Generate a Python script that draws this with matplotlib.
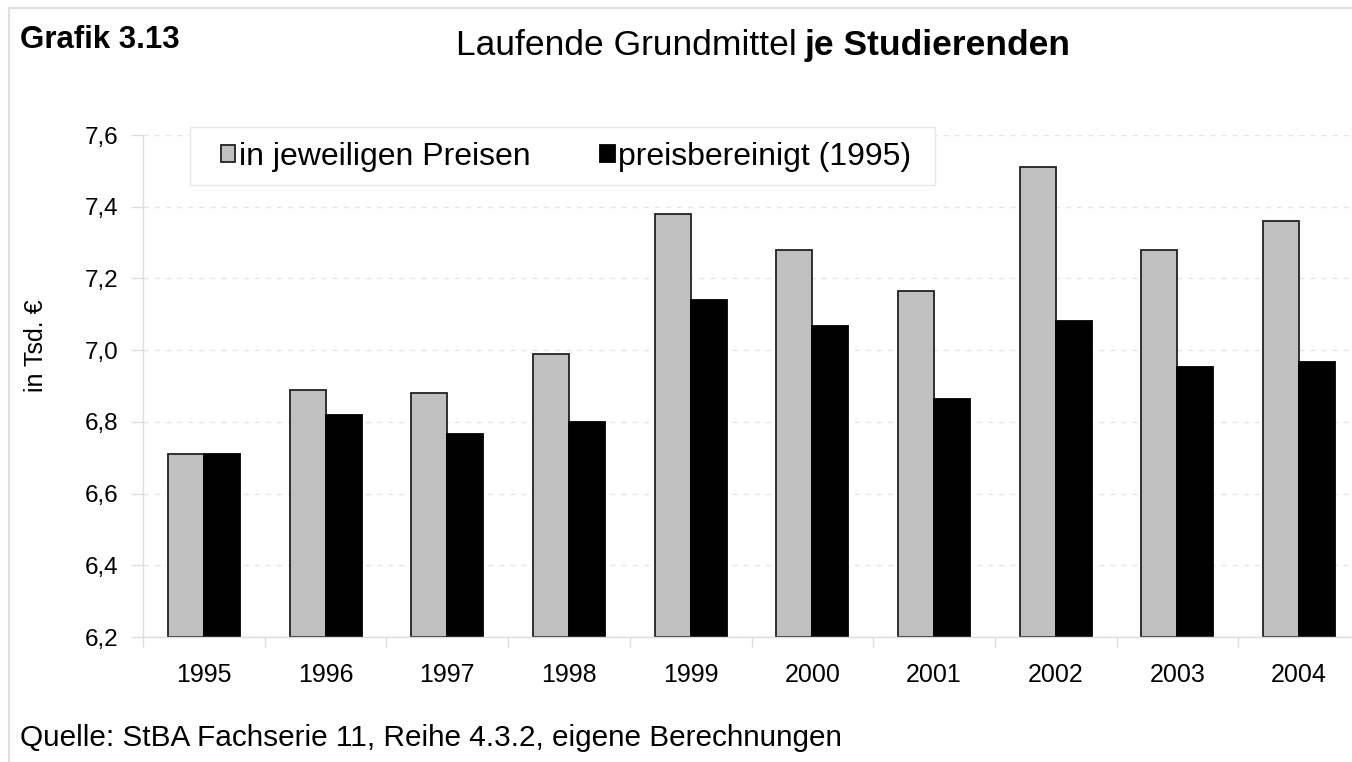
import numpy as np
import matplotlib
matplotlib.use('Agg')
import matplotlib.pyplot as plt
from matplotlib.patches import Patch, Rectangle
from matplotlib.lines import Line2D

plt.rcParams['font.family'] = ['Liberation Sans', 'DejaVu Sans']

jahre = ['1995', '1996', '1997', '1998', '1999', '2000', '2001', '2002', '2003', '2004']
jeweilig = [6.71, 6.89, 6.88, 6.99, 7.38, 7.28, 7.165, 7.51, 7.28, 7.36]
bereinigt = [6.71, 6.82, 6.765, 6.80, 7.14, 7.067, 6.863, 7.08, 6.952, 6.967]
yticks = [6.2, 6.4, 6.6, 6.8, 7.0, 7.2, 7.4, 7.6]

W, H = 1352, 762
fig = plt.figure(figsize=(W / 100, H / 100), dpi=100)
ax = fig.add_axes([143 / W, 1 - 637 / H, 1217 / W, 502 / H])

x = np.arange(len(jahre))
bw = 0.296
base = 6.2
ax.bar(x - bw / 2, np.array(jeweilig) - base, bw, bottom=base,
       color='#c0c0c0', edgecolor='#222222', linewidth=1.3)
ax.bar(x + bw / 2, np.array(bereinigt) - base, bw, bottom=base,
       color='black', edgecolor='black', linewidth=1.3)

ax.set_xlim(-0.5, len(jahre) - 0.5)
ax.set_ylim(6.2, 7.6)
ax.set_yticks(yticks)
ax.set_yticklabels([f'{v:.1f}'.replace('.', ',') for v in yticks], fontsize=17.5)
ax.set_xticks(x)
ax.set_xticklabels(jahre, fontsize=18)
ax.set_xticks(np.arange(-0.5, len(jahre), 1.0), minor=True)
ax.tick_params(axis='x', which='major', length=0, pad=19)
ax.tick_params(axis='x', which='minor', length=7, color='#dddddd', width=1)
ax.tick_params(axis='y', length=9, color='#dddddd', width=1, pad=9)

for s in ['top', 'right']:
    ax.spines[s].set_visible(False)
for s in ['left', 'bottom']:
    ax.spines[s].set_color('#dddddd')
    ax.spines[s].set_linewidth(1)

ax.set_axisbelow(True)
ax.yaxis.grid(True, linestyle=(0, (4, 4)), color='#e6e6e6', linewidth=1)

fig.text(36 / W, 1 - 346 / H, 'in Tsd. €', fontsize=18, rotation=90,
         ha='center', va='center')

# legend box drawn by hand, entries by legend
fig.add_artist(Rectangle((190 / W, 1 - 185 / H), 745 / W, 58 / H,
                         transform=fig.transFigure, facecolor='white',
                         edgecolor='#e8e8e8', linewidth=1, zorder=3))
handles = [Patch(facecolor='#c0c0c0', edgecolor='#222222', linewidth=1.3),
           Patch(facecolor='black', edgecolor='black', linewidth=1.3)]
leg = fig.legend(handles, ['in jeweiligen Preisen', 'preisbereinigt (1995)'],
                 loc='center left', bbox_to_anchor=(221 / W, 1 - 157 / H),
                 ncol=2, fontsize=23, frameon=False,
                 handlelength=0.45, handleheight=0.45, handletextpad=0.1,
                 columnspacing=2.2, borderpad=0, borderaxespad=0)
leg.set_zorder(4)

# titles
fig.text(20 / W, 1 - 48 / H, 'Grafik 3.13', fontsize=22.5, fontweight='bold',
         ha='left', va='baseline')
fig.text(797 / W, 1 - 55 / H, 'Laufende Grundmittel', fontsize=25.5,
         ha='right', va='baseline')
fig.text(805 / W, 1 - 55 / H, 'je Studierenden', fontsize=25.5,
         fontweight='bold', ha='left', va='baseline')

fig.text(20 / W, 1 - 746 / H, 'Quelle: StBA Fachserie 11, Reihe 4.3.2, eigene Berechnungen',
         fontsize=21.4, ha='left', va='baseline')

# outer frame
fig.add_artist(Line2D([9 / W, 9 / W], [0, 1 - 8 / H], color='#e0e0e0', linewidth=1.5))
fig.add_artist(Line2D([9 / W, 1], [1 - 8 / H, 1 - 8 / H], color='#e0e0e0', linewidth=1.5))

fig.savefig('out.png', dpi=100)
